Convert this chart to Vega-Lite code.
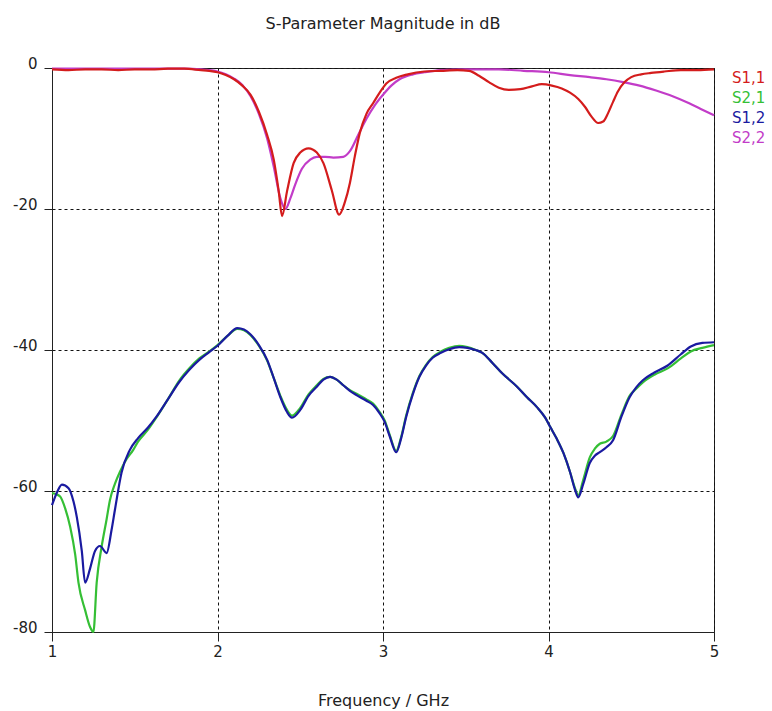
{
  "$schema": "https://vega.github.io/schema/vega-lite/v6.json",
  "width": 662,
  "height": 564,
  "autosize": "none",
  "padding": {"left": 52, "top": 68, "right": 58, "bottom": 79},
  "title": {"text": "S-Parameter Magnitude in dB", "fontSize": 16, "fontWeight": "normal", "color": "#222", "offset": 24, "font": "DejaVu Sans"},
  "config": {
    "font": "DejaVu Sans",
    "view": {"stroke": "#222", "strokeWidth": 1},
    "axis": {"labelFont": "DejaVu Sans", "titleFont": "DejaVu Sans", "labelColor": "#222", "titleColor": "#222", "domainColor": "#222", "tickColor": "#222", "gridColor": "#111", "gridDash": [3, 3], "gridOpacity": 1, "gridWidth": 1, "labelFontSize": 15, "titleFontSize": 16, "titleFontWeight": "normal"}
  },
  "data": {"values": [
    {"f":1.0,"db":-0.2,"s":"S1,1"},{"f":1.1,"db":-0.3,"s":"S1,1"},{"f":1.2,"db":-0.2,"s":"S1,1"},{"f":1.3,"db":-0.2,"s":"S1,1"},{"f":1.4,"db":-0.3,"s":"S1,1"},{"f":1.5,"db":-0.2,"s":"S1,1"},{"f":1.6,"db":-0.2,"s":"S1,1"},{"f":1.7,"db":-0.1,"s":"S1,1"},{"f":1.8,"db":-0.1,"s":"S1,1"},{"f":1.9,"db":-0.3,"s":"S1,1"},{"f":1.95,"db":-0.4,"s":"S1,1"},{"f":2.0,"db":-0.6,"s":"S1,1"},{"f":2.05,"db":-1.0,"s":"S1,1"},{"f":2.1,"db":-1.6,"s":"S1,1"},{"f":2.15,"db":-2.5,"s":"S1,1"},{"f":2.2,"db":-3.8,"s":"S1,1"},{"f":2.25,"db":-6.2,"s":"S1,1"},{"f":2.3,"db":-9.5,"s":"S1,1"},{"f":2.34,"db":-13,"s":"S1,1"},{"f":2.37,"db":-17.5,"s":"S1,1"},{"f":2.39,"db":-21,"s":"S1,1"},{"f":2.42,"db":-17.5,"s":"S1,1"},{"f":2.46,"db":-13.5,"s":"S1,1"},{"f":2.5,"db":-12,"s":"S1,1"},{"f":2.55,"db":-11.4,"s":"S1,1"},{"f":2.6,"db":-12,"s":"S1,1"},{"f":2.64,"db":-13.5,"s":"S1,1"},{"f":2.69,"db":-17.3,"s":"S1,1"},{"f":2.735,"db":-20.8,"s":"S1,1"},{"f":2.77,"db":-19,"s":"S1,1"},{"f":2.8,"db":-16.3,"s":"S1,1"},{"f":2.83,"db":-12.5,"s":"S1,1"},{"f":2.86,"db":-9.2,"s":"S1,1"},{"f":2.9,"db":-6.5,"s":"S1,1"},{"f":2.94,"db":-5.0,"s":"S1,1"},{"f":2.98,"db":-3.5,"s":"S1,1"},{"f":3.02,"db":-2.2,"s":"S1,1"},{"f":3.08,"db":-1.4,"s":"S1,1"},{"f":3.15,"db":-0.9,"s":"S1,1"},{"f":3.25,"db":-0.5,"s":"S1,1"},{"f":3.35,"db":-0.4,"s":"S1,1"},{"f":3.45,"db":-0.3,"s":"S1,1"},{"f":3.52,"db":-0.4,"s":"S1,1"},{"f":3.58,"db":-1.1,"s":"S1,1"},{"f":3.64,"db":-2.0,"s":"S1,1"},{"f":3.7,"db":-2.8,"s":"S1,1"},{"f":3.76,"db":-3.1,"s":"S1,1"},{"f":3.83,"db":-3.0,"s":"S1,1"},{"f":3.9,"db":-2.6,"s":"S1,1"},{"f":3.96,"db":-2.3,"s":"S1,1"},{"f":4.02,"db":-2.5,"s":"S1,1"},{"f":4.08,"db":-2.9,"s":"S1,1"},{"f":4.13,"db":-3.5,"s":"S1,1"},{"f":4.18,"db":-4.4,"s":"S1,1"},{"f":4.22,"db":-5.5,"s":"S1,1"},{"f":4.26,"db":-6.9,"s":"S1,1"},{"f":4.3,"db":-7.8,"s":"S1,1"},{"f":4.33,"db":-7.6,"s":"S1,1"},{"f":4.36,"db":-6.4,"s":"S1,1"},{"f":4.39,"db":-4.8,"s":"S1,1"},{"f":4.42,"db":-3.3,"s":"S1,1"},{"f":4.46,"db":-2.0,"s":"S1,1"},{"f":4.5,"db":-1.3,"s":"S1,1"},{"f":4.56,"db":-0.9,"s":"S1,1"},{"f":4.62,"db":-0.7,"s":"S1,1"},{"f":4.7,"db":-0.5,"s":"S1,1"},{"f":4.8,"db":-0.3,"s":"S1,1"},{"f":4.9,"db":-0.3,"s":"S1,1"},{"f":5.0,"db":-0.2,"s":"S1,1"},

    {"f":1.0,"db":-0.1,"s":"S2,2"},{"f":1.5,"db":-0.1,"s":"S2,2"},{"f":1.8,"db":-0.1,"s":"S2,2"},{"f":1.9,"db":-0.2,"s":"S2,2"},{"f":2.0,"db":-0.5,"s":"S2,2"},{"f":2.05,"db":-0.9,"s":"S2,2"},{"f":2.1,"db":-1.5,"s":"S2,2"},{"f":2.15,"db":-2.4,"s":"S2,2"},{"f":2.2,"db":-4.0,"s":"S2,2"},{"f":2.25,"db":-6.5,"s":"S2,2"},{"f":2.3,"db":-10,"s":"S2,2"},{"f":2.34,"db":-14,"s":"S2,2"},{"f":2.38,"db":-18.5,"s":"S2,2"},{"f":2.41,"db":-20,"s":"S2,2"},{"f":2.44,"db":-18.5,"s":"S2,2"},{"f":2.47,"db":-16.5,"s":"S2,2"},{"f":2.51,"db":-14.3,"s":"S2,2"},{"f":2.56,"db":-13,"s":"S2,2"},{"f":2.6,"db":-12.6,"s":"S2,2"},{"f":2.65,"db":-12.6,"s":"S2,2"},{"f":2.7,"db":-12.7,"s":"S2,2"},{"f":2.76,"db":-12.6,"s":"S2,2"},{"f":2.8,"db":-11.8,"s":"S2,2"},{"f":2.85,"db":-9.5,"s":"S2,2"},{"f":2.9,"db":-7.2,"s":"S2,2"},{"f":2.95,"db":-5.3,"s":"S2,2"},{"f":3.0,"db":-3.8,"s":"S2,2"},{"f":3.05,"db":-2.5,"s":"S2,2"},{"f":3.1,"db":-1.6,"s":"S2,2"},{"f":3.18,"db":-0.9,"s":"S2,2"},{"f":3.25,"db":-0.6,"s":"S2,2"},{"f":3.35,"db":-0.3,"s":"S2,2"},{"f":3.5,"db":-0.2,"s":"S2,2"},{"f":3.7,"db":-0.2,"s":"S2,2"},{"f":3.85,"db":-0.4,"s":"S2,2"},{"f":4.0,"db":-0.6,"s":"S2,2"},{"f":4.13,"db":-1.0,"s":"S2,2"},{"f":4.25,"db":-1.3,"s":"S2,2"},{"f":4.35,"db":-1.6,"s":"S2,2"},{"f":4.45,"db":-2.0,"s":"S2,2"},{"f":4.55,"db":-2.5,"s":"S2,2"},{"f":4.65,"db":-3.2,"s":"S2,2"},{"f":4.75,"db":-4.0,"s":"S2,2"},{"f":4.85,"db":-5.0,"s":"S2,2"},{"f":4.92,"db":-5.8,"s":"S2,2"},{"f":5.0,"db":-6.7,"s":"S2,2"},

    {"f":1.0,"db":-62,"s":"S1,2"},{"f":1.03,"db":-60.2,"s":"S1,2"},{"f":1.06,"db":-59.1,"s":"S1,2"},{"f":1.1,"db":-59.6,"s":"S1,2"},{"f":1.13,"db":-61.5,"s":"S1,2"},{"f":1.15,"db":-63.7,"s":"S1,2"},{"f":1.18,"db":-68.5,"s":"S1,2"},{"f":1.2,"db":-73,"s":"S1,2"},{"f":1.23,"db":-71,"s":"S1,2"},{"f":1.26,"db":-68.5,"s":"S1,2"},{"f":1.29,"db":-67.8,"s":"S1,2"},{"f":1.33,"db":-68.8,"s":"S1,2"},{"f":1.36,"db":-65.5,"s":"S1,2"},{"f":1.38,"db":-62.7,"s":"S1,2"},{"f":1.42,"db":-57.4,"s":"S1,2"},{"f":1.47,"db":-54.2,"s":"S1,2"},{"f":1.52,"db":-52.5,"s":"S1,2"},{"f":1.58,"db":-51,"s":"S1,2"},{"f":1.63,"db":-49.5,"s":"S1,2"},{"f":1.7,"db":-47,"s":"S1,2"},{"f":1.77,"db":-44.5,"s":"S1,2"},{"f":1.83,"db":-42.8,"s":"S1,2"},{"f":1.89,"db":-41.4,"s":"S1,2"},{"f":1.95,"db":-40.3,"s":"S1,2"},{"f":2.0,"db":-39.4,"s":"S1,2"},{"f":2.06,"db":-38,"s":"S1,2"},{"f":2.12,"db":-36.9,"s":"S1,2"},{"f":2.16,"db":-37.1,"s":"S1,2"},{"f":2.2,"db":-37.8,"s":"S1,2"},{"f":2.25,"db":-39.3,"s":"S1,2"},{"f":2.3,"db":-41.4,"s":"S1,2"},{"f":2.34,"db":-44,"s":"S1,2"},{"f":2.38,"db":-46.7,"s":"S1,2"},{"f":2.42,"db":-48.8,"s":"S1,2"},{"f":2.45,"db":-49.6,"s":"S1,2"},{"f":2.5,"db":-48.5,"s":"S1,2"},{"f":2.55,"db":-46.5,"s":"S1,2"},{"f":2.6,"db":-45.2,"s":"S1,2"},{"f":2.64,"db":-44.2,"s":"S1,2"},{"f":2.68,"db":-43.8,"s":"S1,2"},{"f":2.72,"db":-44.2,"s":"S1,2"},{"f":2.76,"db":-45,"s":"S1,2"},{"f":2.8,"db":-45.8,"s":"S1,2"},{"f":2.84,"db":-46.4,"s":"S1,2"},{"f":2.9,"db":-47.2,"s":"S1,2"},{"f":2.94,"db":-47.8,"s":"S1,2"},{"f":2.98,"db":-49,"s":"S1,2"},{"f":3.01,"db":-50.2,"s":"S1,2"},{"f":3.04,"db":-52.2,"s":"S1,2"},{"f":3.08,"db":-54.5,"s":"S1,2"},{"f":3.11,"db":-52.5,"s":"S1,2"},{"f":3.14,"db":-49.5,"s":"S1,2"},{"f":3.18,"db":-46.3,"s":"S1,2"},{"f":3.22,"db":-43.8,"s":"S1,2"},{"f":3.26,"db":-42.2,"s":"S1,2"},{"f":3.3,"db":-41.1,"s":"S1,2"},{"f":3.35,"db":-40.4,"s":"S1,2"},{"f":3.4,"db":-39.9,"s":"S1,2"},{"f":3.46,"db":-39.6,"s":"S1,2"},{"f":3.51,"db":-39.7,"s":"S1,2"},{"f":3.56,"db":-40,"s":"S1,2"},{"f":3.6,"db":-40.4,"s":"S1,2"},{"f":3.66,"db":-41.8,"s":"S1,2"},{"f":3.72,"db":-43.3,"s":"S1,2"},{"f":3.81,"db":-45.2,"s":"S1,2"},{"f":3.87,"db":-46.7,"s":"S1,2"},{"f":3.93,"db":-48.1,"s":"S1,2"},{"f":3.98,"db":-49.6,"s":"S1,2"},{"f":4.01,"db":-50.9,"s":"S1,2"},{"f":4.05,"db":-52.6,"s":"S1,2"},{"f":4.09,"db":-54.6,"s":"S1,2"},{"f":4.13,"db":-57.3,"s":"S1,2"},{"f":4.16,"db":-59.8,"s":"S1,2"},{"f":4.18,"db":-60.9,"s":"S1,2"},{"f":4.21,"db":-59,"s":"S1,2"},{"f":4.25,"db":-56,"s":"S1,2"},{"f":4.28,"db":-55,"s":"S1,2"},{"f":4.31,"db":-54.5,"s":"S1,2"},{"f":4.35,"db":-53.8,"s":"S1,2"},{"f":4.39,"db":-52.8,"s":"S1,2"},{"f":4.44,"db":-49.5,"s":"S1,2"},{"f":4.49,"db":-46.7,"s":"S1,2"},{"f":4.53,"db":-45.3,"s":"S1,2"},{"f":4.57,"db":-44.3,"s":"S1,2"},{"f":4.64,"db":-43.2,"s":"S1,2"},{"f":4.72,"db":-42.2,"s":"S1,2"},{"f":4.8,"db":-40.6,"s":"S1,2"},{"f":4.86,"db":-39.5,"s":"S1,2"},{"f":4.93,"db":-39.0,"s":"S1,2"},{"f":5.0,"db":-38.9,"s":"S1,2"},

    {"f":1.0,"db":-60.3,"s":"S2,1"},{"f":1.03,"db":-60.5,"s":"S2,1"},{"f":1.05,"db":-60.8,"s":"S2,1"},{"f":1.08,"db":-62.5,"s":"S2,1"},{"f":1.11,"db":-65.1,"s":"S2,1"},{"f":1.14,"db":-69,"s":"S2,1"},{"f":1.16,"db":-73,"s":"S2,1"},{"f":1.2,"db":-76.9,"s":"S2,1"},{"f":1.23,"db":-79.3,"s":"S2,1"},{"f":1.25,"db":-80,"s":"S2,1"},{"f":1.27,"db":-73,"s":"S2,1"},{"f":1.3,"db":-67.9,"s":"S2,1"},{"f":1.33,"db":-64,"s":"S2,1"},{"f":1.35,"db":-61.3,"s":"S2,1"},{"f":1.38,"db":-59,"s":"S2,1"},{"f":1.41,"db":-57.3,"s":"S2,1"},{"f":1.45,"db":-55.5,"s":"S2,1"},{"f":1.49,"db":-54.2,"s":"S2,1"},{"f":1.52,"db":-53,"s":"S2,1"},{"f":1.58,"db":-51.3,"s":"S2,1"},{"f":1.63,"db":-49.6,"s":"S2,1"},{"f":1.7,"db":-47,"s":"S2,1"},{"f":1.77,"db":-44.3,"s":"S2,1"},{"f":1.83,"db":-42.6,"s":"S2,1"},{"f":1.89,"db":-41.2,"s":"S2,1"},{"f":1.95,"db":-40.2,"s":"S2,1"},{"f":2.0,"db":-39.3,"s":"S2,1"},{"f":2.06,"db":-38,"s":"S2,1"},{"f":2.12,"db":-37,"s":"S2,1"},{"f":2.16,"db":-37.2,"s":"S2,1"},{"f":2.2,"db":-37.9,"s":"S2,1"},{"f":2.25,"db":-39.4,"s":"S2,1"},{"f":2.3,"db":-41.5,"s":"S2,1"},{"f":2.34,"db":-44,"s":"S2,1"},{"f":2.38,"db":-46.5,"s":"S2,1"},{"f":2.42,"db":-48.5,"s":"S2,1"},{"f":2.45,"db":-49.3,"s":"S2,1"},{"f":2.5,"db":-48.2,"s":"S2,1"},{"f":2.55,"db":-46.3,"s":"S2,1"},{"f":2.6,"db":-45,"s":"S2,1"},{"f":2.64,"db":-44.1,"s":"S2,1"},{"f":2.68,"db":-43.8,"s":"S2,1"},{"f":2.72,"db":-44.2,"s":"S2,1"},{"f":2.76,"db":-45,"s":"S2,1"},{"f":2.8,"db":-45.7,"s":"S2,1"},{"f":2.84,"db":-46.2,"s":"S2,1"},{"f":2.9,"db":-47,"s":"S2,1"},{"f":2.94,"db":-47.6,"s":"S2,1"},{"f":2.98,"db":-48.8,"s":"S2,1"},{"f":3.01,"db":-50,"s":"S2,1"},{"f":3.04,"db":-52,"s":"S2,1"},{"f":3.08,"db":-54.3,"s":"S2,1"},{"f":3.11,"db":-52.3,"s":"S2,1"},{"f":3.14,"db":-49.3,"s":"S2,1"},{"f":3.18,"db":-46.1,"s":"S2,1"},{"f":3.22,"db":-43.7,"s":"S2,1"},{"f":3.26,"db":-42.1,"s":"S2,1"},{"f":3.3,"db":-41,"s":"S2,1"},{"f":3.35,"db":-40.2,"s":"S2,1"},{"f":3.4,"db":-39.7,"s":"S2,1"},{"f":3.46,"db":-39.4,"s":"S2,1"},{"f":3.51,"db":-39.6,"s":"S2,1"},{"f":3.56,"db":-40,"s":"S2,1"},{"f":3.6,"db":-40.4,"s":"S2,1"},{"f":3.66,"db":-41.8,"s":"S2,1"},{"f":3.72,"db":-43.3,"s":"S2,1"},{"f":3.81,"db":-45.2,"s":"S2,1"},{"f":3.87,"db":-46.7,"s":"S2,1"},{"f":3.93,"db":-48.1,"s":"S2,1"},{"f":3.98,"db":-49.6,"s":"S2,1"},{"f":4.01,"db":-50.9,"s":"S2,1"},{"f":4.05,"db":-52.6,"s":"S2,1"},{"f":4.09,"db":-54.6,"s":"S2,1"},{"f":4.13,"db":-57.3,"s":"S2,1"},{"f":4.16,"db":-59.6,"s":"S2,1"},{"f":4.18,"db":-60.6,"s":"S2,1"},{"f":4.21,"db":-58.4,"s":"S2,1"},{"f":4.25,"db":-55.2,"s":"S2,1"},{"f":4.28,"db":-54,"s":"S2,1"},{"f":4.31,"db":-53.3,"s":"S2,1"},{"f":4.35,"db":-53,"s":"S2,1"},{"f":4.39,"db":-52.2,"s":"S2,1"},{"f":4.44,"db":-49.2,"s":"S2,1"},{"f":4.49,"db":-46.5,"s":"S2,1"},{"f":4.53,"db":-45.5,"s":"S2,1"},{"f":4.57,"db":-44.6,"s":"S2,1"},{"f":4.64,"db":-43.5,"s":"S2,1"},{"f":4.72,"db":-42.6,"s":"S2,1"},{"f":4.8,"db":-41.2,"s":"S2,1"},{"f":4.86,"db":-40.2,"s":"S2,1"},{"f":4.93,"db":-39.7,"s":"S2,1"},{"f":5.0,"db":-39.3,"s":"S2,1"}
  ]},
  "encoding": {
    "x": {"field": "f", "type": "quantitative", "scale": {"domain": [1, 5], "nice": false}, "axis": {"title": "Frequency / GHz", "values": [1, 2, 3, 4, 5], "grid": true, "labelFlush": false, "tickSize": 9, "labelPadding": 3, "titlePadding": 33, "domain": true}},
    "y": {"field": "db", "type": "quantitative", "scale": {"domain": [-80, 0], "nice": false}, "axis": {"title": null, "values": [-80, -60, -40, -20, 0], "grid": true, "labelExpr": "'' + datum.value", "labelBaseline": "alphabetic", "tickSize": 8, "labelPadding": 7}},
    "color": {"field": "s", "type": "nominal", "scale": {"domain": ["S1,1", "S2,1", "S1,2", "S2,2"], "range": ["#d41c1c", "#35bf35", "#1a1aa0", "#c23cc8"]},
      "legend": {"title": null, "orient": "none", "legendX": 661, "legendY": 2, "symbolSize": 0, "symbolOpacity": 0, "symbolStrokeWidth": 0, "labelFontSize": 15, "labelFont": "DejaVu Sans", "rowPadding": 4, "encode": {"labels": {"update": {"fill": {"scale": "color", "field": "value"}}}}}}
  },
  "layer": [
    {"transform": [{"filter": "datum.s === 'S2,1' || datum.s === 'S2,2'"}], "mark": {"type": "line", "strokeWidth": 2.2, "interpolate": "monotone"}},
    {"transform": [{"filter": "datum.s === 'S1,1' || datum.s === 'S1,2'"}], "mark": {"type": "line", "strokeWidth": 2.2, "interpolate": "monotone"}}
  ]
}
